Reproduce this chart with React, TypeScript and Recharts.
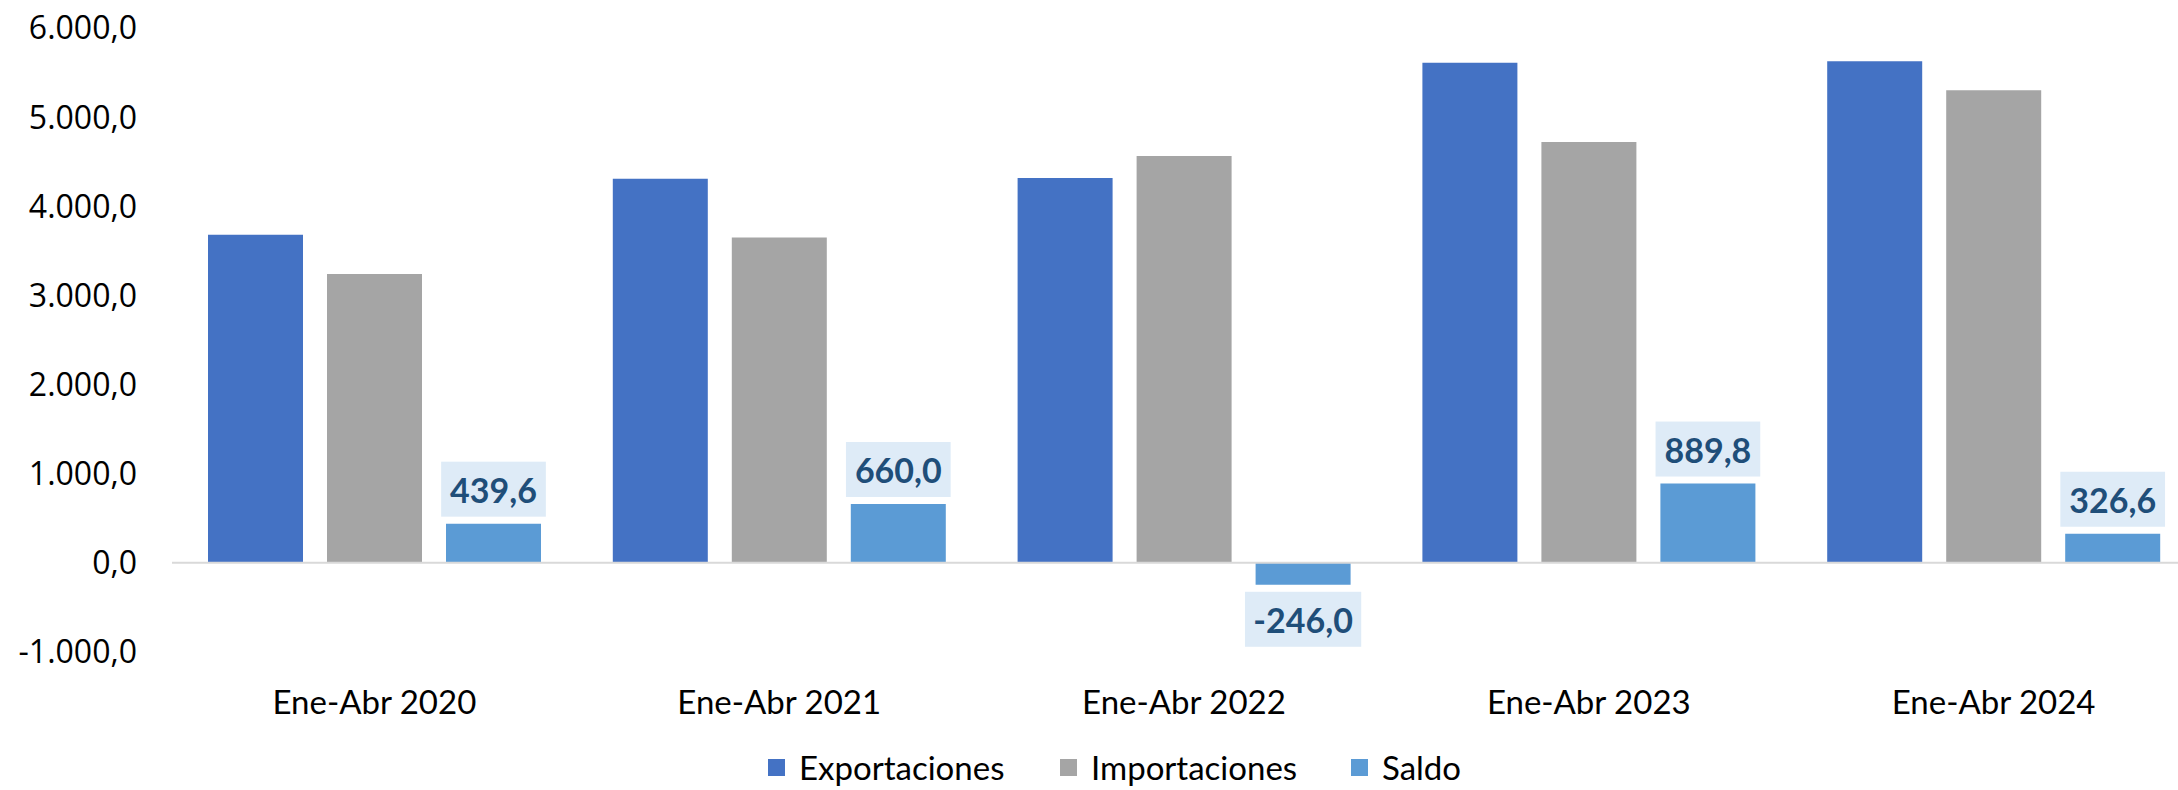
import { BarChart, Bar, XAxis, YAxis, ReferenceLine, LabelList, Legend } from 'recharts'

const categories = ['Ene-Abr 2020', 'Ene-Abr 2021', 'Ene-Abr 2022', 'Ene-Abr 2023', 'Ene-Abr 2024']
const exportaciones = [3680.0, 4310.0, 4318.0, 5610.0, 5628.0]
const importaciones = [3240.4, 3650.0, 4564.0, 4720.2, 5301.4]
const saldo = [439.6, 660.0, -246.0, 889.8, 326.6]
const yTicks = [-1000, 0, 1000, 2000, 3000, 4000, 5000, 6000]

const data = categories.map((periodo, i) => ({
    periodo,
    exportaciones: exportaciones[i],
    importaciones: importaciones[i],
    saldo: saldo[i],
}))

const legendItems = [
    { name: 'Exportaciones', color: '#4472c4', left: 768 },
    { name: 'Importaciones', color: '#a5a5a5', left: 1060 },
    { name: 'Saldo', color: '#5b9bd5', left: 1351 },
]

// 1.234,5 style numbers
function fmt(v: number) {
    const neg = v < 0
    const [int, dec] = Math.abs(v).toFixed(1).split('.')
    const grouped = int.replace(/\B(?=(\d{3})+(?!\d))/g, '.')
    return (neg ? '-' : '') + grouped + ',' + dec
}

function textWidth(s: string, size: number) {
    let w = 0
    for (const ch of s) {
        if (ch === ',' || ch === '.') w += 0.23
        else if (ch === '-') w += 0.34
        else w += 0.58
    }
    return w * size
}

function SaldoLabel(props: any) {
    const { x, y, width, height, value } = props
    const text = fmt(Number(value))
    const w = textWidth(text, 34) + 18
    const h = 55
    const top = Math.min(y, y + height)
    const bottom = Math.max(y, y + height)
    const cx = x + width / 2
    const by = value >= 0 ? top - 7 - h : bottom + 7
    return (
        <g>
            <rect x={cx - w / 2} y={by} width={w} height={h} fill="#deebf7" />
            <text x={cx} y={by + h / 2} textAnchor="middle" dominantBaseline="central"
                fontFamily="Lato" fontWeight={700} fontSize={34} fill="#1f4e79">{text}</text>
        </g>
    )
}

function CategoryTick(props: any) {
    const { x, y, payload } = props
    return (
        <text x={x} y={y + 49} textAnchor="middle" dominantBaseline="central"
            fontFamily="Lato" fontSize={33} fill="#000">{payload.value}</text>
    )
}

function LegendBox() {
    return (
        <div style={{ position: 'relative', width: 2178, height: 44 }}>
            {legendItems.map(it => (
                <div key={it.name} style={{
                    position: 'absolute', left: it.left, top: 2,
                    display: 'flex', alignItems: 'center', whiteSpace: 'nowrap', height: 38
                }}>
                    <span style={{ width: 17, height: 17, background: it.color, display: 'inline-block', marginRight: 14 }} />
                    <span style={{ fontFamily: 'Lato', fontSize: 33, color: '#000', lineHeight: '38px' }}>{it.name}</span>
                </div>
            ))}
        </div>
    )
}

export default function App() {
    return (
        <div style={{ position: 'absolute', left: 0, top: 0, width: 2178, height: 790, overflow: 'hidden', background: '#fff' }}>
            <BarChart
                width={2178}
                height={790}
                data={data}
                margin={{ top: 28, right: -18, left: 0, bottom: 0 }}
                barCategoryGap={36}
                barGap={24}
            >
                <XAxis dataKey="periodo" height={94} axisLine={false} tickLine={false} tickSize={0} tickMargin={0} tick={<CategoryTick />} interval={0} />
                <YAxis width={172} domain={[-1000, 6000]} ticks={yTicks} axisLine={false} tickLine={false} tickSize={0} tickMargin={35}
                    tickFormatter={fmt} tick={{ fontFamily: 'Open Sans', fontSize: 32, fill: '#000' }} />
                <ReferenceLine y={0} stroke="#d9d9d9" strokeWidth={2} />
                <Legend verticalAlign="bottom" wrapperStyle={{ left: 0, height: 44 }} content={() => <LegendBox />} />
                <Bar dataKey="exportaciones" name="Exportaciones" fill="#4472c4" isAnimationActive={false} />
                <Bar dataKey="importaciones" name="Importaciones" fill="#a5a5a5" isAnimationActive={false} />
                <Bar dataKey="saldo" name="Saldo" fill="#5b9bd5" isAnimationActive={false}>
                    <LabelList dataKey="saldo" content={<SaldoLabel />} />
                </Bar>
            </BarChart>
        </div>
    )
}
